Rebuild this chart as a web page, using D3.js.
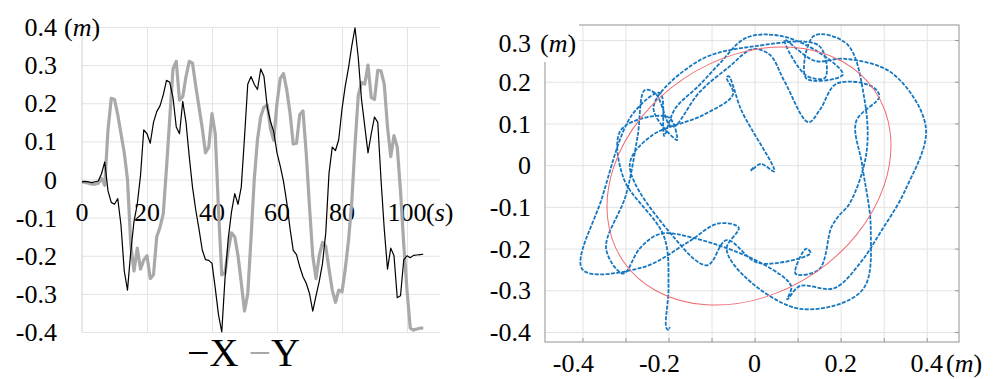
<!DOCTYPE html>
<html>
<head>
<meta charset="utf-8">
<script src="https://cdn.jsdelivr.net/npm/d3@7"></script>
<style>
  body { margin: 0; background: #fff; }
  svg, svg text { font-family: "Liberation Serif", "Times New Roman", serif; }
  svg { display: block; }
</style>
</head>
<body>
<svg id="chart" width="995" height="379" font-family="Liberation Serif, serif"></svg>
<script>
// sample times (s), one reading per second
const time = d3.range(0, 106);

// X position (m), black line
const xPos = [
  -0.006, -0.005, -0.006, -0.008, -0.006, -0.004, 0.015, 0.046, -0.03, -0.06,
  -0.065, -0.05, -0.12, -0.24, -0.29, -0.19, -0.11, -0.065, 0.01, 0.13,
  0.12, 0.095, 0.15, 0.178, 0.193, 0.222, 0.26, 0.255, 0.215, 0.138,
  0.12, 0.205, 0.15, 0.06, -0.02, -0.08, -0.13, -0.185, -0.21, -0.212,
  -0.22, -0.285, -0.355, -0.4, -0.26, -0.155, -0.085, -0.037, -0.065, -0.02,
  0.11, 0.25, 0.27, 0.25, 0.236, 0.29, 0.27, 0.19, 0.152, 0.125,
  0.07, 0.035, -0.005, -0.06, -0.128, -0.186, -0.197, -0.229, -0.255, -0.272,
  -0.299, -0.345, -0.305, -0.267, -0.22, -0.14, 0.016, 0.085, 0.076, 0.105,
  0.185, 0.245, 0.293, 0.35, 0.398, 0.32, 0.21, 0.14, 0.07, 0.12,
  0.164, 0.15, 0.0, -0.13, -0.235, -0.18, -0.2, -0.31, -0.305, -0.211,
  -0.2, -0.205, -0.199, -0.198, -0.197, -0.196
];

// Y position (m), gray line
const yPos = [
  -0.006, -0.008, -0.01, -0.012, -0.012, -0.01, 0.003, -0.015, 0.13, 0.213,
  0.21, 0.17, 0.12, 0.07, 0.0, -0.17, -0.24, -0.18, -0.235, -0.211,
  -0.2, -0.26, -0.25, -0.15, -0.125, -0.09, 0.03, 0.16, 0.29, 0.31,
  0.208, 0.217, 0.27, 0.31, 0.305, 0.245, 0.19, 0.135, 0.07, 0.085,
  0.173, 0.12, -0.08, -0.25, -0.245, -0.185, -0.14, -0.15, -0.2, -0.27,
  -0.345, -0.3, -0.155, 0.0, 0.105, 0.165, 0.19, 0.195, 0.133, 0.103,
  0.2, 0.265, 0.278, 0.235, 0.175, 0.093, 0.095, 0.17, 0.18, 0.068,
  -0.072, -0.2, -0.26, -0.2, -0.165, -0.175, -0.235, -0.29, -0.322, -0.29,
  -0.295, -0.235, -0.16, -0.06, 0.09, 0.22, 0.255, 0.25, 0.3, 0.215,
  0.21, 0.286, 0.285, 0.25, 0.138, 0.06, 0.115, 0.085, -0.03, -0.17,
  -0.29, -0.39, -0.395, -0.392, -0.39, -0.39
];

// fitted reference ellipse (m, deg)
const ellipseCenter = [-0.013, -0.026];
const ellipseRadii = [0.353, 0.281];
const ellipseTilt = -34;

const leftXTicks = [0, 20, 40, 60, 80, 100];
const leftYTicks = [0.4, 0.3, 0.2, 0.1, 0, -0.1, -0.2, -0.3, -0.4];
const rightXGrid = [-0.4, -0.3, -0.2, -0.1, 0, 0.1, 0.2, 0.3, 0.4];
const rightXTicks = [-0.4, -0.2, 0, 0.2, 0.4];
const rightYTicks = [0.3, 0.2, 0.1, 0, -0.1, -0.2, -0.3, -0.4];

const svg = d3.select("#chart");
const gridColor = "#e3e3e3";
const fs = 26;
const serif = "Liberation Serif, Times New Roman, serif";

// ---------- left: X and Y against time ----------
const lx = d3.scaleLinear().domain([0, 110]).range([82, 439.5]);
const ly = d3.scaleLinear().domain([-0.4, 0.4]).range([332, 27]);

const left = svg.append("g").attr("font-family", serif);

left.append("g")
    .attr("transform", "translate(" + lx(0) + ",0)")
    .call(d3.axisLeft(ly).tickValues(leftYTicks).tickSize(-(lx(110) - lx(0))).tickFormat(""))
    .call(g => g.select(".domain").remove())
    .call(g => g.selectAll("line").attr("stroke", gridColor));

left.append("g")
    .attr("transform", "translate(0," + ly(-0.4) + ")")
    .call(d3.axisBottom(lx).tickValues(leftXTicks.slice(1)).tickSize(-(ly(-0.4) - ly(0.4))).tickFormat(""))
    .call(g => g.select(".domain").remove())
    .call(g => g.selectAll("line").attr("stroke", gridColor));

left.append("line")
    .attr("x1", lx(0)).attr("x2", lx(0))
    .attr("y1", ly(0.4)).attr("y2", ly(-0.4))
    .attr("stroke", "#cfcfcf");

left.selectAll(".ylab").data(leftYTicks).join("text")
    .attr("x", 57).attr("y", d => ly(d))
    .attr("dy", "0.35em")
    .attr("text-anchor", "end")
    .attr("font-size", fs)
    .text(d => String(d));

left.append("text")
    .attr("x", 64).attr("y", ly(0.4)).attr("dy", "0.35em")
    .attr("font-size", fs)
    .html('(<tspan font-style="italic">m</tspan>)');

left.selectAll(".xlab").data(leftXTicks).join("text")
    .attr("x", d => lx(d)).attr("y", 221)
    .attr("text-anchor", "middle")
    .attr("font-size", fs)
    .text(d => String(d));

left.append("text")
    .attr("x", 426).attr("y", 221)
    .attr("font-size", fs)
    .html('(<tspan font-style="italic">s</tspan>)');

const lineT = d3.line().x((d, i) => lx(time[i])).y(d => ly(d));

left.append("path")
    .datum(yPos)
    .attr("d", lineT)
    .attr("fill", "none")
    .attr("stroke", "#a9a9a9")
    .attr("stroke-width", 3.2)
    .attr("stroke-linejoin", "round");

left.append("path")
    .datum(xPos)
    .attr("d", lineT)
    .attr("fill", "none")
    .attr("stroke", "#000")
    .attr("stroke-width", 1.2)
    .attr("stroke-linejoin", "round");

// legend
const leg = svg.append("text")
    .attr("font-family", serif)
    .attr("x", 187).attr("y", 366)
    .attr("font-size", 40);
leg.append("tspan").attr("fill", "#000").text("\u2212X ");
leg.append("tspan").attr("fill", "#a9a9a9").text("\u2212");
leg.append("tspan").attr("fill", "#000").text("Y");

// ---------- right: Y against X ----------
const rx = d3.scaleLinear().domain([-0.487, 0.475]).range([545, 959]);
const ry = d3.scaleLinear().domain([-0.424, 0.336]).range([342, 25]);

const right = svg.append("g").attr("font-family", serif);

right.append("clipPath").attr("id", "rclip")
  .append("rect")
    .attr("x", rx(-0.487)).attr("y", ry(0.336))
    .attr("width", rx(0.475) - rx(-0.487))
    .attr("height", ry(-0.424) - ry(0.336));

right.append("g")
    .attr("transform", "translate(" + rx(-0.487) + ",0)")
    .call(d3.axisLeft(ry).tickValues(rightYTicks).tickSize(-(rx(0.475) - rx(-0.487))).tickFormat(""))
    .call(g => g.select(".domain").remove())
    .call(g => g.selectAll("line").attr("stroke", gridColor));

right.append("g")
    .attr("transform", "translate(0," + ry(-0.424) + ")")
    .call(d3.axisBottom(rx).tickValues(rightXGrid).tickSize(-(ry(-0.424) - ry(0.336))).tickFormat(""))
    .call(g => g.select(".domain").remove())
    .call(g => g.selectAll("line").attr("stroke", gridColor));

// small inner ticks on bottom and right edges
right.append("g")
    .attr("transform", "translate(0," + ry(-0.424) + ")")
    .call(d3.axisTop(rx).tickValues(rightXGrid).tickSize(4).tickFormat(""))
    .call(g => g.select(".domain").remove())
    .call(g => g.selectAll("line").attr("stroke", "#999"));

right.append("g")
    .attr("transform", "translate(" + rx(0.475) + ",0)")
    .call(d3.axisLeft(ry).tickValues(rightYTicks).tickSize(4).tickFormat(""))
    .call(g => g.select(".domain").remove())
    .call(g => g.selectAll("line").attr("stroke", "#999"));

right.append("rect")
    .attr("x", rx(-0.487)).attr("y", ry(0.336))
    .attr("width", rx(0.475) - rx(-0.487))
    .attr("height", ry(-0.424) - ry(0.336))
    .attr("fill", "none")
    .attr("stroke", "#a3a3a3")
    .attr("stroke-width", 1.2);

const plot = right.append("g").attr("clip-path", "url(#rclip)");

plot.append("path")
    .datum(time)
    .attr("d", d3.line().curve(d3.curveCatmullRom.alpha(0.5)).x(i => rx(xPos[i])).y(i => ry(yPos[i])))
    .attr("fill", "none")
    .attr("stroke", "#1677c0")
    .attr("stroke-width", 1.8)
    .attr("stroke-dasharray", "4 1.4")
    .attr("stroke-linejoin", "round");

const ecx = rx(ellipseCenter[0]), ecy = ry(ellipseCenter[1]);
plot.append("ellipse")
    .attr("cx", ecx).attr("cy", ecy)
    .attr("rx", rx(ellipseCenter[0] + ellipseRadii[0]) - ecx)
    .attr("ry", ecy - ry(ellipseCenter[1] + ellipseRadii[1]))
    .attr("transform", "rotate(" + ellipseTilt + "," + ecx + "," + ecy + ")")
    .attr("fill", "none")
    .attr("stroke", "#f06a72")
    .attr("stroke-width", 1);

// label box at the top-left hides the frame corner
right.append("rect")
    .attr("x", 480).attr("y", 18).attr("width", 99).attr("height", 44)
    .attr("fill", "#fff");

right.selectAll(".ylab").data(rightYTicks).join("text")
    .attr("x", 531).attr("y", d => ry(d) + (d === 0.3 ? 3 : 0))
    .attr("dy", "0.35em")
    .attr("text-anchor", "end")
    .attr("font-size", fs)
    .text(d => String(d));

right.append("text")
    .attr("x", 540).attr("y", ry(0.3) + 3).attr("dy", "0.35em")
    .attr("font-size", fs)
    .html('(<tspan font-style="italic">m</tspan>)');

right.selectAll(".xlab").data(rightXTicks).join("text")
    .attr("x", d => rx(d) + (d < 0 ? -9 : 0)).attr("y", 372)
    .attr("text-anchor", "middle")
    .attr("font-size", fs)
    .text(d => String(d));

right.append("text")
    .attr("x", 946).attr("y", 372)
    .attr("font-size", fs)
    .html('(<tspan font-style="italic">m</tspan>)');
</script>
</body>
</html>
